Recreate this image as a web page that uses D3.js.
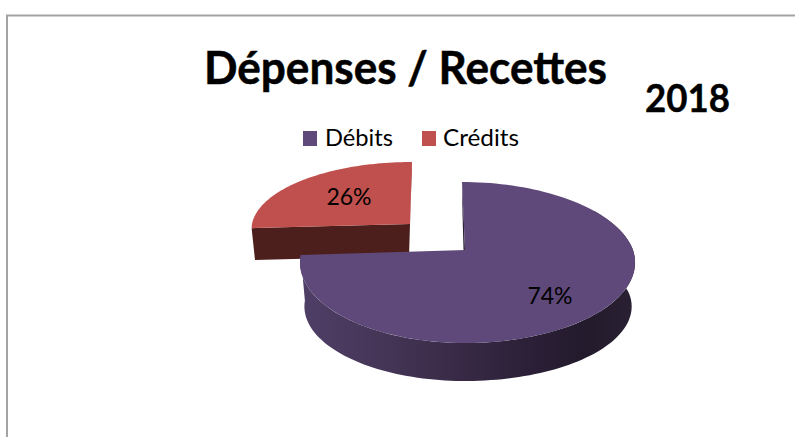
<!DOCTYPE html>
<html><head><meta charset="utf-8">
<script src="https://cdn.jsdelivr.net/npm/d3@7"></script>
<style>html,body{margin:0;padding:0;background:#fff}svg{display:block}text{font-family:Lato,"Open Sans",sans-serif;fill:#000}</style>
</head><body><svg id="c" width="795" height="437"></svg>
<script>
const categories = ["Débits", "Crédits"];
const values = [74, 26];
const colors = ["#5f497a", "#c0504d"];
const title = "Dépenses / Recettes";
const year = "2018";

const svg = d3.select("#c");
const defs = svg.append("defs");
const grad = defs.append("linearGradient").attr("id","side").attr("gradientUnits","userSpaceOnUse")
  .attr("x1",302).attr("x2",635).attr("y1",0).attr("y2",0);
[[0,"#4f3f67"],[0.35,"#40304f"],[0.7,"#2a1f36"],[0.85,"#231a2c"],[1,"#292033"]].forEach(s=>grad.append("stop").attr("offset",s[0]).attr("stop-color",s[1]));

// frame
svg.append("path").attr("d","M7,437V15.5H795").attr("fill","none").attr("stroke","#a3a3a3").attr("stroke-width",2);

// perspective disc: angle -> screen
function disc(cx,cy,rxR,rxL,back,front,skew=0){
  const k=(front-back)/(front+back), ry=back*(1+k);
  return (a,r=1)=>{
    const u=Math.sin(a)*r, v=-Math.cos(a)*r, w=1-k*v;
    return [cx+(u>0?rxR:rxL)*u/w + (v<0?v*skew:0), cy+ry*v/w];
  };
}
const arcs = d3.pie().sort(null)(values);
const line = d3.line();
const sweep=(a0,a1)=>d3.range(0,121).map(i=>a0+(a1-a0)*i/120);
const slicePts=(p,d)=>[p(d.startAngle,0),...sweep(d.startAngle,d.endAngle).map(a=>p(a))];

// exploded slice: Crédits
const ct=disc(410,224,158,158,62,71,-2);
const c=arcs[1];
const cEnd=ct(c.endAngle), cStart=ct(c.startAngle);
const g=svg.append("g");
g.append("path").attr("fill","#4c1f1c").attr("d",line([cStart,ct(c.startAngle,0),[409,256],[255,260]])+"Z");
g.append("path").attr("fill","#8a3b38").attr("d",line([cEnd,[cEnd[0]-1,cEnd[1]+8],ct(c.endAngle,0)])+"Z");
g.append("path").attr("fill",colors[1]).attr("d",line(slicePts(ct,c))+"Z");

// main slice: Débits
const pt=disc(465,250,168,163,68,93,3), pb=disc(465,296,165,159,64,85,3);
const d0=arcs[0];
const s0=pt(d0.startAngle);
g.append("path").attr("fill","#2c2236").attr("d",line([s0,[s0[0]+1.5,s0[1]+30],pt(0,0),[s0[0]+1.5,pt(0,0)[1]],[s0[0]+.5,s0[1]+32]])+"Z");
g.append("path").attr("fill","url(#side)").attr("d",line([...sweep(d0.startAngle+1,d0.endAngle).map(a=>pt(a)),...sweep(d0.startAngle+1,d0.endAngle).reverse().map(a=>pb(a))])+"Z");
g.append("path").attr("fill",colors[0]).attr("d",line(slicePts(pt,d0))+"Z");

// labels
const pct=[[550,304],[349,205]];
values.forEach((v,i)=>svg.append("text").attr("x",pct[i][0]).attr("y",pct[i][1]).attr("text-anchor","middle").attr("font-size",23).text(v+"%"));

// titles
svg.append("text").attr("x",204).attr("y",84).attr("font-size",46).attr("font-weight",700).attr("stroke","#000").attr("stroke-width",.5).attr("textLength",403).attr("lengthAdjust","spacingAndGlyphs").text(title);
svg.append("text").attr("x",645).attr("y",112).attr("font-size",38).attr("font-weight",700).attr("stroke","#000").attr("stroke-width",.4).attr("textLength",85).attr("lengthAdjust","spacingAndGlyphs").text(year);

// legend
const lx=[303,422], tx=[325,443], tw=[68,76];
categories.forEach((n,i)=>{
  svg.append("rect").attr("x",lx[i]).attr("y",131).attr("width",14).attr("height",15).attr("fill",colors[i]);
  svg.append("text").attr("x",tx[i]).attr("y",146).attr("font-size",23).attr("textLength",tw[i]).attr("lengthAdjust","spacingAndGlyphs").text(n);
});
</script></body></html>
